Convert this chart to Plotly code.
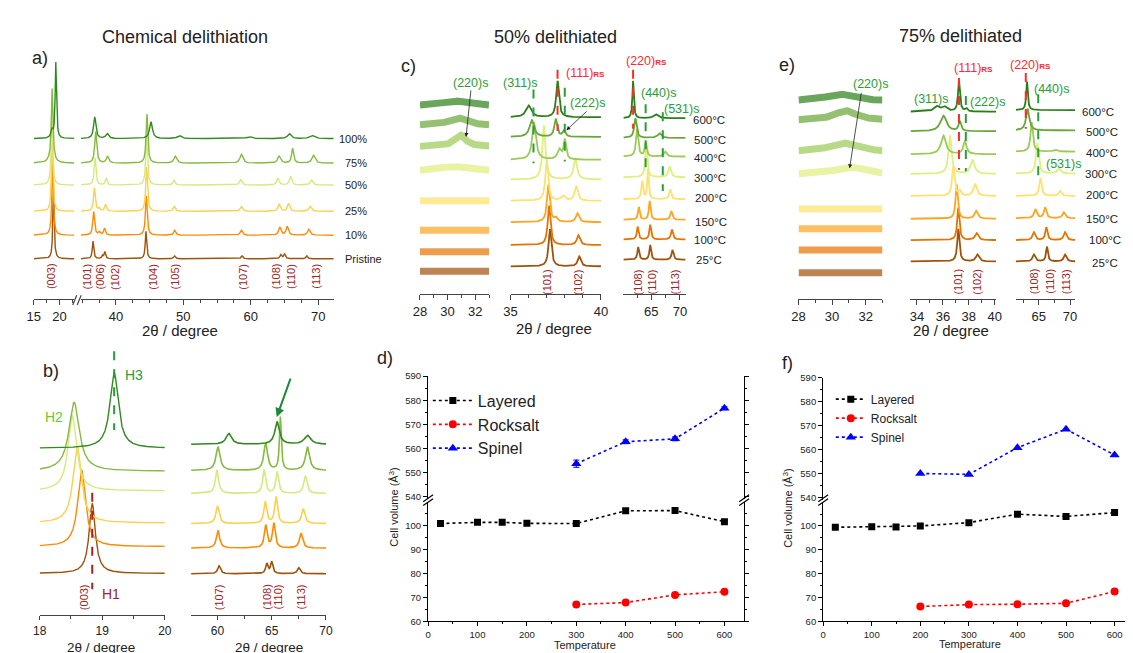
import numpy as np
import plotly.graph_objects as go

W, H = 1133, 653
FONT = "Liberation Sans, Arial, sans-serif"

# ======================= DATA =======================
# ---- chemical delithiation (panels a, b) ----
deli_names = ["Pristine", "10%", "25%", "50%", "75%", "100%"]
deli_colors = ["#a0520a", "#ff8a00", "#ffcf4a", "#d6ea7c", "#84bb3e", "#2f8a1e"]
# peaks: (2theta, intensity, fwhm)
a_left_peaks = [
    [(18.85, 70, 0.3)],
    [(18.68, 75, 0.35)],
    [(18.60, 72, 0.35)],
    [(18.52, 72, 0.35)],
    [(18.58, 70, 0.35), (18.5, 6, 1.2)],
    [(19.30, 77, 0.3), (18.55, 8, 0.5)],
]
a_right_peaks = [
    [(36.6, 18, 0.25), (38.0, 3, 0.25), (38.35, 7, 0.25), (44.45, 28, 0.25), (48.7, 3, 0.3),
     (58.7, 3, 0.3), (64.45, 4, 0.3), (65.0, 5, 0.3), (68.3, 3, 0.3)],
    [(36.7, 24, 0.3), (37.55, 3, 0.3), (38.3, 7, 0.3), (44.5, 40, 0.3), (48.7, 5, 0.35),
     (58.6, 5, 0.4), (64.3, 8, 0.4), (65.4, 9, 0.4), (68.6, 6, 0.45)],
    [(36.8, 24, 0.3), (37.5, 3, 0.3), (38.45, 7, 0.3), (44.55, 45, 0.3), (48.65, 5, 0.35),
     (58.6, 5, 0.4), (64.2, 7, 0.4), (65.6, 8, 0.4), (68.8, 5, 0.45)],
    [(36.9, 28, 0.3), (38.55, 7, 0.3), (44.55, 50, 0.3), (48.6, 5, 0.35),
     (58.5, 6, 0.4), (64.0, 7, 0.4), (65.9, 9, 0.4), (69.0, 5, 0.45)],
    [(37.0, 32, 0.35), (38.75, 7, 0.4), (44.6, 50, 0.3), (48.8, 7, 0.5),
     (58.6, 9, 0.5), (64.2, 7, 0.5), (66.2, 15, 0.35), (69.3, 8, 0.55)],
    [(36.85, 22, 0.4), (38.7, 5, 0.5), (45.2, 17, 0.5), (49.4, 3, 0.7),
     (59.8, 2, 0.8), (65.7, 5, 0.6), (69.1, 3, 0.8)],
]
b_left_peaks = [
    [(18.84, 71, 0.12)],
    [(18.67, 78, 0.15)],
    [(18.60, 78, 0.16)],
    [(18.52, 77, 0.16)],
    [(18.55, 70, 0.2)],
    [(19.19, 77, 0.16)],
]
b_right_peaks = [
    [(60.15, 8, 0.3), (64.55, 10, 0.25), (65.0, 12, 0.25), (67.5, 6, 0.3)],
    [(60.05, 18, 0.35), (64.45, 23, 0.3), (65.2, 25, 0.3), (67.7, 15, 0.35)],
    [(60.0, 18, 0.35), (64.4, 22, 0.3), (65.4, 27, 0.3), (67.9, 15, 0.35)],
    [(59.95, 24, 0.35), (64.3, 24, 0.3), (65.5, 22, 0.3), (68.1, 18, 0.35)],
    [(60.05, 24, 0.45), (64.45, 28, 0.4), (65.8, 54, 0.2), (68.3, 24, 0.45)],
    [(61.05, 11, 0.6), (65.5, 23, 0.5), (68.3, 9, 0.7)],
]
a_miller = ["(003)", "(101)", "(006)", "(102)", "(104)", "(105)", "(107)", "(108)", "(110)", "(113)"]
b_miller = ["(107)", "(108)", "(110)", "(113)"]
H_labels = ["H1", "H2", "H3"]

# ---- heat-treated 50% / 75% delithiated (panels c, e) ----
temp_labels = ["25°C", "100°C", "150°C", "200°C", "300°C", "400°C", "500°C", "600°C"]
temp_colors = ["#a0520a", "#e67300", "#ffa41f", "#ffe16b", "#def07c", "#9bcb54", "#68a636", "#2b7f18"]

c_left_peaks = [[], [], [], [], [(30.5, 5, 2.5)], [(30.9, 12, 1.0)], [(30.7, 8, 1.5)], [(30.5, 5, 2.0)]]
c_mid_peaks = [
    [(37.18, 38, 0.18), (38.8, 10, 0.2)],
    [(37.13, 40, 0.18), (38.75, 10, 0.2)],
    [(37.09, 38, 0.18), (37.5, 4, 0.2), (38.7, 9, 0.2)],
    [(37.0, 42, 0.18), (37.9, 5, 0.25), (38.63, 15, 0.2)],
    [(36.85, 55, 0.2), (38.58, 22, 0.22)],
    [(36.3, 38, 0.25), (37.7, 10, 0.25), (38.0, 20, 0.16)],
    [(36.18, 17, 0.3), (37.5, 18, 0.18), (37.95, 6, 0.18)],
    [(36.0, 12, 0.35), (37.6, 37, 0.18)],
]
c_right_peaks = [
    [(62.7, 13, 0.35), (64.8, 15, 0.35), (68.7, 10, 0.4)],
    [(62.6, 13, 0.35), (64.8, 15, 0.35), (68.6, 10, 0.4)],
    [(62.8, 13, 0.35), (64.7, 19, 0.35), (68.5, 9, 0.4)],
    [(63.4, 18, 0.35), (64.4, 30, 0.3), (68.3, 10, 0.4)],
    [(64.1, 36, 0.4), (68.2, 11, 0.5)],
    [(62.5, 28, 0.45), (64.0, 14, 0.4), (67.4, 5, 0.6)],
    [(62.2, 20, 0.5), (66.4, 5, 0.7)],
    [(61.8, 38, 0.3), (65.8, 4, 0.9)],
]
e_left_peaks = [[], [], [], [], [(31.0, 8, 2.0)], [(30.6, 9, 1.8)], [(30.8, 10, 1.6)], [(30.4, 7, 1.8)]]
e_mid_peaks = [
    [(37.19, 33, 0.2), (38.66, 7, 0.3)],
    [(37.19, 33, 0.2), (38.6, 7, 0.3)],
    [(37.06, 35, 0.2), (38.56, 8, 0.3)],
    [(36.8, 30, 0.22), (37.3, 5, 0.2), (38.48, 12, 0.3)],
    [(36.55, 39, 0.28), (38.28, 14, 0.38)],
    [(36.04, 19, 0.45), (37.7, 13, 0.3)],
    [(36.04, 16, 0.55), (37.3, 10, 0.22)],
    [(35.5, 5, 0.45), (36.1, 5, 0.5), (37.24, 31, 0.18), (37.8, 3, 0.2)],
]
e_right_peaks = [
    [(64.2, 7, 0.5), (66.3, 15, 0.35), (69.2, 7, 0.5)],
    [(64.2, 8, 0.5), (66.2, 13, 0.4), (69.2, 8, 0.5)],
    [(64.45, 9, 0.5), (66.0, 11, 0.45), (69.0, 6, 0.5)],
    [(65.25, 18, 0.45), (68.4, 5, 0.5)],
    [(64.75, 31, 0.5), (68.2, 5, 0.6)],
    [(63.85, 30, 0.45), (67.6, 2, 0.7)],
    [(63.2, 22, 0.6)],
    [(63.1, 29, 0.3)],
]
c_miller = ["(101)", "(102)", "(108)", "(110)", "(113)"]
# reference line positions (2theta)
c_mid_lines = {"(311)s": 36.27, "(111)RS": 37.6, "(222)s": 38.0}
c_right_lines = {"(220)RS": 61.8, "(440)s": 64.0, "(531)s": 67.0}
e_mid_lines = {"(111)RS": 37.24, "(222)s": 37.77}
e_right_lines = {"(220)RS": 62.9, "(440)s": 64.9}
b_lines = {"H3": 19.19, "H1": 18.84}

# ---- cell volume (panels d, f) ----
phases = ["Layered", "Rocksalt", "Spinel"]
d_T_layered = [25, 100, 150, 200, 300, 400, 500, 600]
d_V_layered = [100.7, 101.2, 101.2, 100.8, 100.7, 106.0, 106.1, 101.5]
d_T_rock = [300, 400, 500, 600]
d_V_rock = [67.0, 67.8, 71.0, 72.3]
d_T_spinel = [300, 400, 500, 600]
d_V_spinel = [553.7, 562.8, 564.0, 576.7]
d_E_spinel = [1.5, 0.8, 0.8, 0.6]

f_T_layered = [25, 100, 150, 200, 300, 400, 500, 600]
f_V_layered = [99.45, 99.7, 99.6, 100.0, 101.4, 104.95, 104.0, 105.6]
f_T_rock = [200, 300, 400, 500, 600]
f_V_rock = [66.2, 67.0, 67.15, 67.55, 72.5]
f_T_spinel = [200, 300, 400, 500, 600]
f_V_spinel = [550.0, 549.6, 560.8, 568.5, 557.7]

# ======================= HELPERS =======================
def PX(x):
    return x / W


def PY(y):
    return 1 - y / H


def profile(x, peaks):
    y = np.zeros_like(x)
    for p, h, w in peaks:
        y += h / (1 + ((x - p) / (0.5 * w)) ** 2)
    return y


fig = go.Figure()
layout = dict(width=W, height=H, margin=dict(l=0, r=0, t=0, b=0),
              paper_bgcolor="white", plot_bgcolor="rgba(0,0,0,0)",
              font=dict(family=FONT, color="#222"), showlegend=True)
shapes = []
annotations = []

AX = "#444"


def xrd_axis(k, x0, x1, ytop, ybot, xr, tick0, dtick, mdtick, fs=13, tl=5):
    layout[f"xaxis{k}"] = dict(domain=[PX(x0), PX(x1)], range=xr, anchor=f"y{k}",
                               showline=True, linecolor=AX, linewidth=1.2, ticks="outside",
                               ticklen=tl, tickcolor=AX, tickmode="linear", tick0=tick0, dtick=dtick,
                               minor=dict(dtick=mdtick, tick0=tick0, ticklen=3, ticks="outside", tickcolor=AX),
                               showgrid=False, zeroline=False, tickfont=dict(size=fs, color="#222"))
    layout[f"yaxis{k}"] = dict(domain=[PY(ybot), PY(ytop)], range=[-ybot, -ytop], anchor=f"x{k}",
                               visible=False, fixedrange=True)


def add_curves(k, xr, peaks_list, offsets, colors, width, opacity=1.0, n=1600):
    xg = np.linspace(xr[0], xr[1], n)
    for peaks, off, col in zip(peaks_list, offsets, colors):
        fig.add_trace(go.Scatter(x=xg, y=-off + profile(xg, peaks), mode="lines",
                                 line=dict(color=col, width=width), opacity=opacity,
                                 xaxis=f"x{k}", yaxis=f"y{k}", showlegend=False, hoverinfo="skip"))


def vline(k, xpos, ytop, ybot, color):
    shapes.append(dict(type="line", xref=f"x{k}", yref=f"y{k}", x0=xpos, x1=xpos,
                       y0=-ytop, y1=-ybot, line=dict(color=color, width=2, dash="dash")))


def ann(text, x, y, size=12, color="#222", angle=0, xanchor="center"):
    annotations.append(dict(text=text, x=PX(x), y=PY(y), xref="paper", yref="paper", showarrow=False,
                            font=dict(size=size, color=color, family=FONT), textangle=angle,
                            xanchor=xanchor, yanchor="middle"))


def arrow(xt, yt, xh, yh, color="#222", width=0.8, head=2, size=1.0):
    annotations.append(dict(text="", x=PX(xh), y=PY(yh), xref="paper", yref="paper",
                            ax=xt - xh, ay=yt - yh, axref="pixel", ayref="pixel",
                            font=dict(size=10, family=FONT),
                            showarrow=True, arrowhead=head, arrowwidth=width,
                            arrowcolor=color, arrowsize=size))


def pline(x0, y0, x1, y1, color="#444", width=1.2):
    shapes.append(dict(type="line", xref="paper", yref="paper", x0=PX(x0), y0=PY(y0),
                       x1=PX(x1), y1=PY(y1), line=dict(color=color, width=width)))


MIL = "#a02424"
GRN = "#25a035"
RED = "#ff2a2a"

# ======================= PANEL a =======================
a_off = [249, 225, 200.7, 174, 151.7, 126.7]
xr = [15, 22.9]
xrd_axis(1, 19, 60, 40, 290, xr, 15, 5, 2.5)
add_curves(1, xr, a_left_peaks, a_off, deli_colors, 1.4)
xr = [34.8, 72.3]
xrd_axis(2, 66.7, 322.7, 40, 290, xr, 40, 10, 2.5)
add_curves(2, xr, a_right_peaks, a_off, deli_colors, 1.4, n=4000)
pline(58.5, 296, 62.5, 286)
pline(63, 296, 67, 286)
for name, off in zip(deli_names, a_off):
    if name == "Pristine":
        ann(name, 332, off, 11, xanchor="left")
    else:
        ann(name, 358, off, 11, xanchor="right")
for lab, xx in zip(a_miller, [36, 72, 86, 100.7, 139, 162, 230, 264, 279, 304]):
    ann(lab, xx, 267, 11, MIL, -90)
ann("Chemical delithiation", 172, 23, 18)
ann("a)", 25, 45, 18)
ann("2θ / degree", 167, 322, 15)

# ======================= PANEL b =======================
bl_off = [569, 541.7, 517.7, 485, 465, 441.7]
br_off = [569.3, 543.3, 518.3, 487.7, 464.3, 437.7]
xr = [18, 20]
xrd_axis(3, 25, 151.7, 335, 611.7, xr, 18, 1, 0.5, 12, 4)
add_curves(3, xr, b_left_peaks, bl_off, deli_colors, 1.4)
xr = [57.57, 70.02]
xrd_axis(4, 178.3, 315, 335, 611.7, xr, 60, 5, 2.5, 12, 4)
add_curves(4, xr, b_right_peaks, br_off, deli_colors, 1.6)
vline(3, b_lines["H3"], 343, 423, GRN)
vline(3, b_lines["H1"], 487, 585, "#a02424")
ann(H_labels[2], 120, 367, 14, GRN)
ann(H_labels[1], 39, 410, 14, "#66cc33")
ann(H_labels[0], 97, 590, 14, MIL)
ann("(003)", 70, 593, 11, MIL, -90)
for lab, xx in zip(b_miller, [206.7, 255, 266.7, 290]):
    ann(lab, xx, 593, 11, MIL, -90)
arrow(279.3, 370, 265, 410, "#1a8a3a", 2, 2, 0.9)
ann("b)", 36, 363, 18)
ann("2θ / degree", 87, 644, 13.5)
ann("2θ / degree", 257, 644, 13.5)

# ======================= PANEL c =======================
cl_off = [261.7, 241.7, 220, 190, 160, 135, 113.3, 93.3]
cm_off = [256.7, 235, 211.7, 190, 168.3, 148.3, 125, 105]
cr_off = [250, 229.3, 209.3, 188.3, 166, 145, 126, 106]
xr = [28, 33]
xrd_axis(5, 410, 480, 40, 285, xr, 28, 2, 1, 13)
add_curves(5, xr, c_left_peaks, cl_off, temp_colors, 7, 0.7, n=400)
xr = [35, 40]
xrd_axis(6, 501.7, 593.3, 40, 285, xr, 35, 5, 1, 13)
add_curves(6, xr, c_mid_peaks, cm_off, temp_colors, 1.8)
xr = [60.1, 71]
xrd_axis(7, 616, 679, 40, 285, xr, 65, 5, 2.5, 13)
add_curves(7, xr, c_right_peaks, cr_off, temp_colors, 1.8)
vline(6, c_mid_lines["(311)s"], 76.7, 151.7, GRN)
vline(6, c_mid_lines["(111)RS"], 56.7, 119, RED)
vline(6, c_mid_lines["(222)s"], 75, 150, GRN)
vline(7, c_right_lines["(220)RS"], 56.7, 116.7, RED)
vline(7, c_right_lines["(440)s"], 91.7, 163.3, GRN)
vline(7, c_right_lines["(531)s"], 100, 180, GRN)
RS = "<span style='font-size:8px'><b>RS</b></span>"
ann("(220)s", 461.7, 70, 12.5, GRN)
ann("(311)s", 511.7, 70, 12.5, GRN)
ann("(111)" + RS, 578, 60, 12.5, RED)
ann("(222)s", 580, 91, 12.5, GRN)
ann("(220)" + RS, 639, 48.3, 12.5, RED)
ann("(440)s", 652, 80, 12.5, GRN)
ann("(531)s", 675, 96.7, 12.5, GRN)
arrow(461.7, 77, 456.7, 125)
arrow(580, 98, 558.3, 118.3)
for lab, off, xx in zip(temp_labels, [250, 230, 211.7, 186.7, 166.7, 146.7, 127.7, 107.7],
                        [688, 685, 686, 686, 685, 685, 685, 684]):
    ann(lab, xx, off, 11.5, xanchor="left")
for lab, xx in zip(c_miller, [539.3, 570, 631.7, 645, 668.3]):
    ann(lab, xx, 273, 11, MIL, -90)
ann("50% delithiated", 547, 23, 18)
ann("c)", 398, 53, 18)
ann("2θ / degree", 546, 320, 15)

# ======================= PANEL e =======================
el_off = [263.3, 240, 218.3, 198.3, 163.3, 140, 108.3, 88.3]
em_off = [251.7, 230, 208.3, 185, 162.7, 142.7, 119.3, 99.3]
er_off = [251.7, 230, 207.7, 185, 162.3, 140, 118.3, 97.7]
xr = [28, 33]
xrd_axis(8, 793.3, 878.3, 40, 290, xr, 28, 2, 1, 13)
add_curves(8, xr, e_left_peaks, el_off, temp_colors, 7, 0.7, n=400)
xr = [33.5, 40.1]
xrd_axis(9, 906.7, 993.3, 40, 290, xr, 34, 2, 1, 13)
add_curves(9, xr, e_mid_peaks, em_off, temp_colors, 1.8)
xr = [61.3, 70.8]
xrd_axis(10, 1013.3, 1073.3, 40, 290, xr, 65, 5, 2.5, 13)
add_curves(10, xr, e_right_peaks, er_off, temp_colors, 1.8)
vline(9, e_mid_lines["(111)RS"], 65, 158.3, RED)
vline(9, e_mid_lines["(222)s"], 83.3, 160, GRN)
vline(10, e_right_lines["(220)RS"], 60, 116.7, RED)
vline(10, e_right_lines["(440)s"], 81.7, 170, GRN)
ann("(220)s", 866, 71.7, 12.5, GRN)
ann("(311)s", 928.3, 86, 12.5, GRN)
ann("(111)" + RS, 970, 55, 12.5, RED)
ann("(222)s", 985, 89.3, 12.5, GRN)
ann("(220)" + RS, 1028, 51.7, 12.5, RED)
ann("(440)s", 1049.3, 76, 12.5, GRN)
ann("(531)s", 1061.7, 152.7, 12.5, GRN)
arrow(857, 80, 845, 157)
for lab, off, xx in zip(temp_labels, [253.3, 230, 208.3, 184.3, 162.3, 141.7, 120, 99.3],
                        [1088, 1085, 1082, 1082, 1081, 1082, 1082, 1078]):
    ann(lab, xx, off, 11.5, xanchor="left")
for lab, xx in zip(c_miller, [955, 974.3, 1031.7, 1048.3, 1065]):
    ann(lab, xx, 272, 11, MIL, -90)
ann("75% delithiated", 957, 22, 18)
ann("e)", 782, 52, 18)
ann("2θ / degree", 948, 322, 15)


# ======================= PANELS d, f =======================
def vol_axes(kl, ku, x0, x1, xr, yl, yu):
    base = dict(showline=True, linecolor="black", linewidth=1.2, ticks="outside", ticklen=4,
                tickcolor="black", showgrid=False, zeroline=False, tickfont=dict(size=9.5, color="#222"))
    layout[f"xaxis{kl}"] = dict(base, domain=[PX(x0), min(1.0, PX(x1))], range=xr, anchor=f"y{kl}",
                                tickmode="linear", tick0=0, dtick=100,
                                minor=dict(dtick=50, tick0=0, ticklen=2, ticks="outside", tickcolor="black"))
    layout[f"xaxis{ku}"] = dict(domain=[PX(x0), min(1.0, PX(x1))], range=xr, anchor=f"y{ku}",
                                matches=f"x{kl}", visible=False)
    layout[f"yaxis{kl}"] = dict(base, domain=[PY(yl[0]), PY(yl[1])], range=[60, 109.5], anchor=f"x{kl}",
                                tickmode="linear", tick0=60, dtick=10, mirror="ticks",
                                minor=dict(dtick=5, tick0=60, ticklen=2, ticks="outside", tickcolor="black"))
    layout[f"yaxis{ku}"] = dict(base, domain=[PY(yu[0]), PY(yu[1])], range=[539, 590], anchor=f"x{ku}",
                                tickmode="linear", tick0=540, dtick=10, mirror="ticks",
                                minor=dict(dtick=5, tick0=540, ticklen=2, ticks="outside", tickcolor="black"))


def vol_traces(kl, ku, T1, V1, T2, V2, T3, V3, E3, leg, msz):
    common = dict(mode="lines+markers", legend=leg, hoverinfo="skip")
    fig.add_trace(go.Scatter(x=T1, y=V1, name=phases[0], xaxis=f"x{kl}", yaxis=f"y{kl}",
                             line=dict(color="black", dash="dot", width=1.6),
                             marker=dict(symbol="square", size=msz, color="black"), **common))
    fig.add_trace(go.Scatter(x=T2, y=V2, name=phases[1], xaxis=f"x{kl}", yaxis=f"y{kl}",
                             line=dict(color="#ff0000", dash="dot", width=1.6),
                             marker=dict(symbol="circle", size=msz + 1, color="#ff0000"), **common))
    ey = dict(type="data", array=E3, thickness=1, width=3, color="#0000ff") if E3 else None
    fig.add_trace(go.Scatter(x=T3, y=V3, name=phases[2], xaxis=f"x{ku}", yaxis=f"y{ku}",
                             line=dict(color="#0000ff", dash="dot", width=1.6), error_y=ey,
                             marker=dict(symbol="triangle-up", size=msz + 2, color="#0000ff"), **common))


vol_axes(11, 12, 418.3, 738.3, [0, 640], (617.7, 496.8), (493.5, 368.3))
vol_traces(11, 12, d_T_layered, d_V_layered, d_T_rock, d_V_rock, d_T_spinel, d_V_spinel,
           d_E_spinel, "legend", 7)
vol_axes(13, 14, 818.3, 1134, [0, 640], (617.7, 497.7), (494.1, 370))
vol_traces(13, 14, f_T_layered, f_V_layered, f_T_rock, f_V_rock, f_T_spinel, f_V_spinel,
           None, "legend2", 7)

# break marks on the y axes
for xb in (418.3, 738.3, 818.3):
    pline(xb - 5, 496, xb + 5, 489, "black", 1.2)
    pline(xb - 5, 500, xb + 5, 493, "black", 1.2)

ann("d)", 375, 350, 18)
ann("f)", 782, 355, 18)
ann("Cell volume (Å<sup>3</sup>)", 383, 502, 11, angle=-90)
ann("Cell volume (Å<sup>3</sup>)", 782, 503, 11, angle=-90)
ann("Temperature", 577, 642, 11)
ann("Temperature", 967, 641, 11)

layout["legend"] = dict(x=PX(418), y=PY(376), xanchor="left", yanchor="top", bgcolor="rgba(0,0,0,0)",
                        font=dict(size=16, family=FONT, color="#222"), itemwidth=40, tracegroupgap=0)
layout["legend2"] = dict(x=PX(826), y=PY(377), xanchor="left", yanchor="top", bgcolor="rgba(0,0,0,0)",
                         font=dict(size=12, family=FONT, color="#222"), itemwidth=30, tracegroupgap=0)

layout["shapes"] = shapes
layout["annotations"] = annotations
fig.update_layout(**layout)
fig.write_html("out.html")
